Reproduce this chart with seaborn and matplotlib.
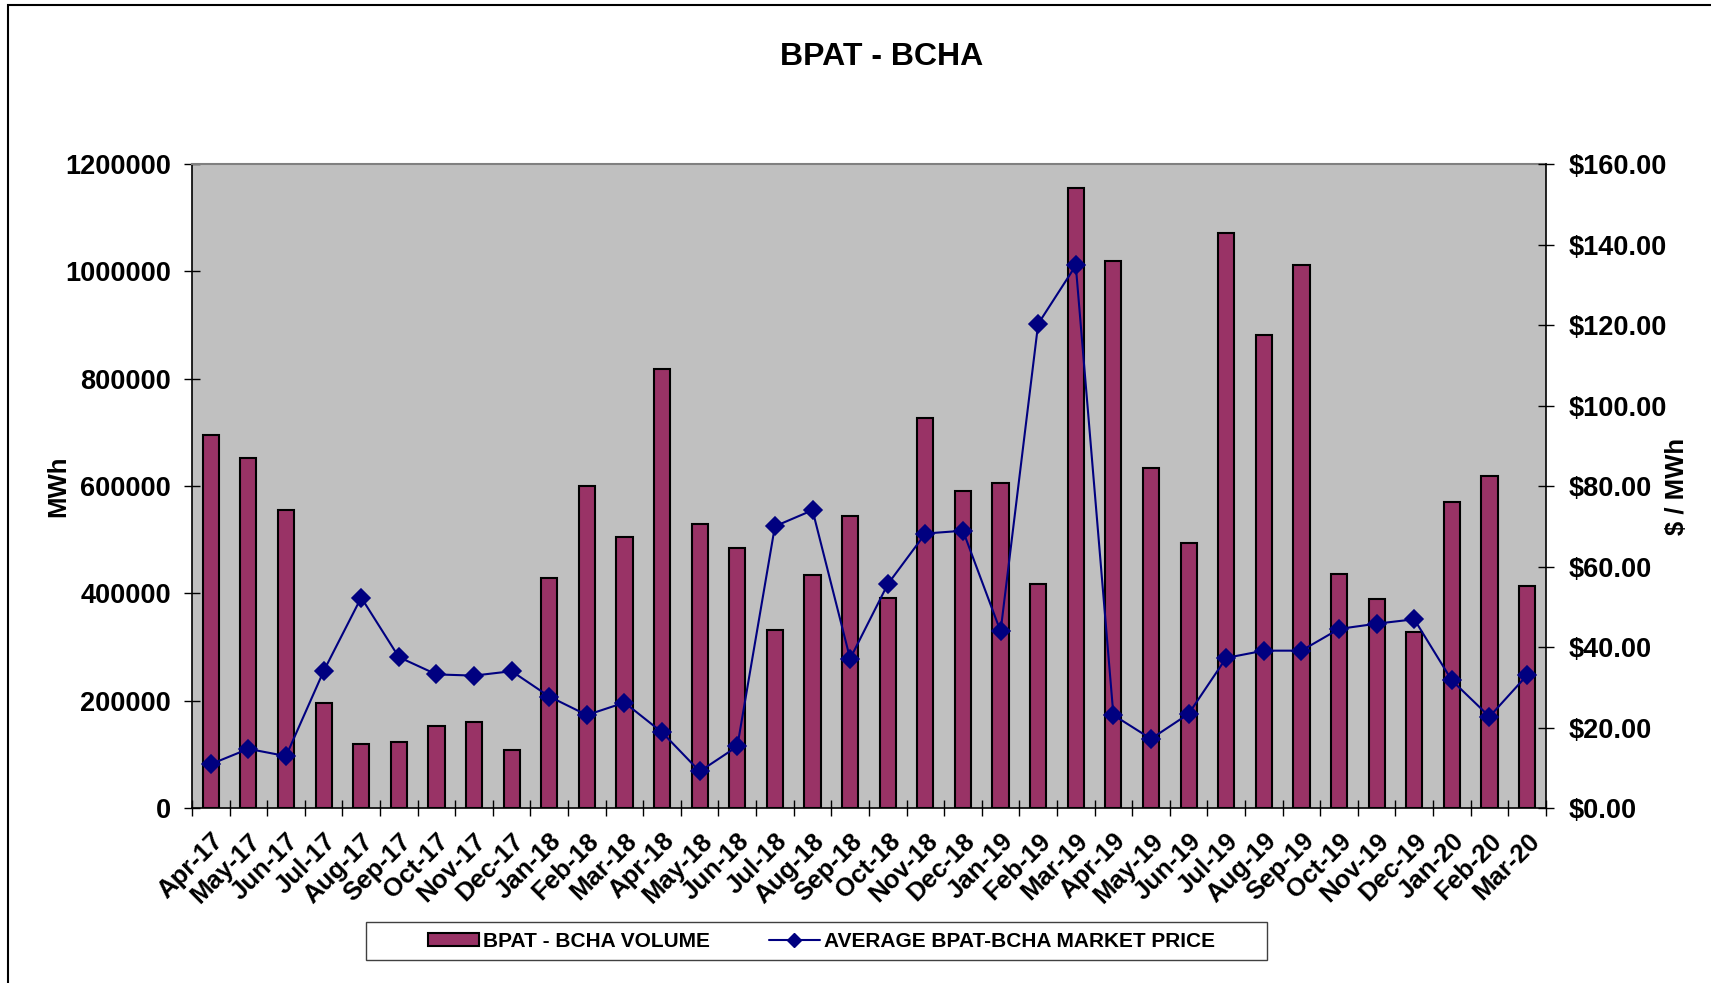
import numpy as np
import pandas as pd
import matplotlib
matplotlib.use("Agg")
import matplotlib.pyplot as plt
import seaborn as sns
from matplotlib.patches import Patch, Rectangle
from matplotlib.lines import Line2D
from matplotlib.ticker import FuncFormatter, MultipleLocator, FixedLocator

# Monthly data
months = ["Apr-17", "May-17", "Jun-17", "Jul-17", "Aug-17", "Sep-17", "Oct-17", "Nov-17", "Dec-17",
          "Jan-18", "Feb-18", "Mar-18", "Apr-18", "May-18", "Jun-18", "Jul-18", "Aug-18", "Sep-18",
          "Oct-18", "Nov-18", "Dec-18", "Jan-19", "Feb-19", "Mar-19", "Apr-19", "May-19", "Jun-19",
          "Jul-19", "Aug-19", "Sep-19", "Oct-19", "Nov-19", "Dec-19", "Jan-20", "Feb-20", "Mar-20"]

volume = [695000, 653000, 555000, 195000, 120000, 123000, 152000, 160000, 108000,
          428000, 601000, 505000, 819000, 530000, 485000, 332000, 435000, 544000,
          391000, 726000, 591000, 605000, 417000, 1156000, 1019000, 633000, 493000,
          1071000, 881000, 1012000, 437000, 389000, 328000, 570000, 618000, 413000]

price = [10.9, 14.7, 12.9, 34.0, 52.3, 37.5, 33.2, 32.9, 34.0,
         27.7, 23.1, 26.2, 18.8, 9.1, 15.3, 70.0, 74.0, 37.1,
         55.6, 68.2, 68.9, 43.9, 120.3, 134.8, 23.1, 17.2, 23.4,
         37.3, 39.1, 39.1, 44.5, 45.8, 46.9, 31.7, 22.7, 33.0]

BAR = "#993366"
NAVY = "#000080"

sns.set_style("white")
plt.rcParams["font.family"] = ["Liberation Sans", "DejaVu Sans"]
plt.rcParams["font.weight"] = "bold"
plt.rcParams["axes.labelweight"] = "bold"
plt.rcParams["text.color"] = "black"
plt.rcParams["axes.labelcolor"] = "black"
plt.rcParams["xtick.color"] = "black"
plt.rcParams["ytick.color"] = "black"

df = pd.DataFrame({"month": months, "volume": volume, "price": price})

fig = plt.figure(figsize=(17.11, 9.83), dpi=100)
ax = fig.add_axes([0.1122, 0.178, 0.7913, 0.6551])
ax.set_facecolor("#c0c0c0")

# bars - volume
sns.barplot(data=df, x="month", y="volume", color=BAR, saturation=1,
            edgecolor="black", linewidth=1.5, width=0.43, ax=ax)

# line - price on second axis
ax2 = ax.twinx()
sns.pointplot(data=df, x="month", y="price", color=NAVY, marker="D",
              markersize=9, linewidth=1.5, errorbar=None, ax=ax2)

ax.set_xlim(-0.5, len(months) - 0.5)
ax.set_ylim(0, 1200000)
ax2.set_ylim(0, 160)

# x axis: labels at centers, tick marks at boundaries
ax.set_xticks(range(len(months)))
ax.set_xticklabels(months, rotation=45, ha="right", va="top",
                   rotation_mode="anchor", fontsize=18.5)
ax.xaxis.set_minor_locator(FixedLocator(np.arange(-0.5, len(months), 1)))
ax.tick_params(axis="x", which="major", length=0, pad=15)
ax.tick_params(axis="x", which="minor", bottom=True, length=11,
               direction="inout", width=1, color="black")
ax.set_xlabel("")

ax.yaxis.set_major_locator(MultipleLocator(200000))
ax.yaxis.set_major_formatter(FuncFormatter(lambda v, p: f"{int(v)}"))
ax.tick_params(axis="y", left=True, direction="inout", length=11, width=1,
               color="black", pad=9.5, labelsize=19.5)
ax.set_ylabel("MWh", fontsize=18.5, fontweight="bold")
ax.yaxis.set_label_coords(-0.09, 0.5)

ax2.yaxis.set_major_locator(MultipleLocator(20))
ax2.yaxis.set_major_formatter(FuncFormatter(lambda v, p: f"${v:.2f}"))
ax2.tick_params(axis="y", right=True, direction="inout", length=11, width=1,
                color="black", pad=11, labelsize=19.5)
ax2.set_ylabel("$ / MWh", fontsize=18.5, fontweight="bold")
ax2.yaxis.set_label_coords(1.088, 0.5)

for s in ["top", "left", "bottom"]:
    ax2.spines[s].set_visible(False)
ax2.spines["right"].set_color("black")
ax2.spines["right"].set_linewidth(1.2)
ax.spines["right"].set_visible(False)
ax.spines["top"].set_color("#808080")
ax.spines["top"].set_linewidth(1.5)
for s in ["left", "bottom"]:
    ax.spines[s].set_color("black")
    ax.spines[s].set_linewidth(1.2)

fig.text(0.5155, 0.942, "BPAT - BCHA", ha="center", va="center", fontsize=23)

# legend
handles = [Patch(facecolor=BAR, edgecolor="black", linewidth=1.5),
           Line2D([], [], color=NAVY, linewidth=1.5, marker="D", markersize=7)]
fig.legend(handles, ["BPAT - BCHA VOLUME", "AVERAGE BPAT-BCHA MARKET PRICE"],
           loc="center", bbox_to_anchor=(0.4801, 0.0427), ncol=2, frameon=False,
           fontsize=15, handlelength=2.45, handleheight=0.6, handletextpad=0.2,
           columnspacing=2.8)
fig.patches.append(Rectangle((0.2139, 0.0234), 0.5266, 0.0387, transform=fig.transFigure,
                             facecolor="none", edgecolor="#404040", linewidth=1))

# outer chart border
fig.patches.append(Rectangle((0.0047, -0.05), 1.1, 1.0449, transform=fig.transFigure,
                             facecolor="none", edgecolor="black", linewidth=1.5))

plt.savefig("out.png", dpi=100)
